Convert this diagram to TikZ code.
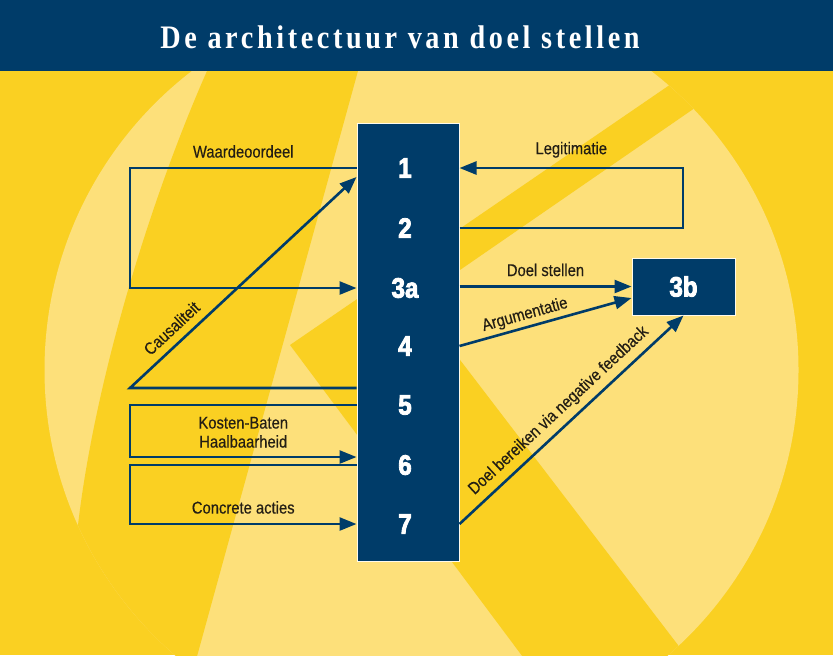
\documentclass[tikz,border=0pt]{standalone}
\usepackage{fontspec}
\setmainfont{Liberation Sans}
\newfontfamily\labelfont[FakeStretch=0.87,FakeBold=0.4]{Liberation Sans}
\newfontfamily\numfont[FakeStretch=0.86,BoldFeatures={FakeBold=3}]{Liberation Sans}
\newfontfamily\titlefont[FakeStretch=0.86,LetterSpace=11]{Liberation Serif}
\usetikzlibrary{arrows.meta}
\definecolor{navy}{RGB}{0,60,105}
\definecolor{sunyellow}{RGB}{250,208,34}
\definecolor{paleyellow}{RGB}{253,224,122}
\definecolor{inkbrown}{RGB}{35,30,20}
\tikzset{
  flow/.style={draw=navy, line width=1.3pt},
  arr/.style={flow, -{Triangle[length=8.5pt,width=6.5pt]}},
  lbl/.style={font=\labelfont\fontsize{8.5}{9.5}\selectfont, text=inkbrown, inner sep=1.5pt},
  stage/.style={fill=navy, draw=white!85!paleyellow, line width=0.5pt},
  num/.style={font=\numfont\bfseries\fontsize{14}{14}\selectfont, text=white},
}
\begin{document}
\begin{tikzpicture}[x=0.5pt, y=-0.5pt]
\useasboundingbox (0,0) rectangle (833,655);
\fill[sunyellow] (0,0) rectangle (833,655);
\fill[paleyellow] (421.5,370) circle[radius=188.5pt];
\begin{scope}
\clip (421.5,370) circle[radius=188.5pt];
\fill[sunyellow] (207,60) -- (207,71) .. controls (150,200) and (95,380) .. (78,525) -- (40,700) -- (185,700) -- (361,60) -- cycle;
\fill[sunyellow] (290,345) -- (720,50.5) -- (760,63) -- (415,301) -- (720,700) -- (555,700) -- cycle;
\end{scope}
\fill[navy] (0,0) rectangle (833,71);
\node[font=\titlefont\bfseries\fontsize{16.4}{18}\selectfont, text=white] (title) at (400,37) {De architectuur van doel stellen};

\node[stage, minimum width=51pt, minimum height=219pt] (col) at (408,342) {};
\node[stage, minimum width=51.5pt, minimum height=28.5pt, num] (b3) at (683.5,286.5) {3b};
\foreach \n/\y in {1/168, 2/228, 3a/288, 4/346, 5/405, 6/465, 7/524}
  \node[num] (n\n) at (405,\y) {\n};

\coordinate (lx) at (130,0);
\coordinate (rx) at (683,0);
\coordinate (k1) at ([yshift=-4.5pt]n1.center);
\coordinate (k5) at ([yshift=8.5pt]n5.center);
\coordinate (k6) at ([yshift=4pt]n6.center);

\draw[arr] (n1 -| col.west) -- node[lbl, above=3pt, pos=0.5] {Waardeoordeel} (n1 -| lx) -- (n3a -| lx) -- (n3a -| col.west);
\draw[arr] (k5 -| col.west) -- (k5 -| lx) -- node[lbl, sloped, above=2.4pt, pos=0.23] {Causaliteit} (k1 -| col.west);
\draw[arr] (n5 -| col.west) -- (n5 -| lx) -- (k6 -| lx) -- node[lbl, above=2.5pt, align=center] {Kosten-Baten\\Haalbaarheid} (k6 -| col.west);
\draw[arr] (n6 -| col.west) -- (n6 -| lx) -- (n7 -| lx) -- node[lbl, above=3pt] {Concrete acties} (n7 -| col.west);

\draw[arr] (n2 -| col.east) -- (n2 -| rx) -- (n1 -| rx) -- node[lbl, above=3pt] {Legitimatie} (n1 -| col.east);
\draw[arr] (col.east |- b3.west) -- node[lbl, above=3pt] {Doel stellen} (b3.west);
\draw[arr] (n4 -| col.east) -- node[lbl, sloped, above, pos=0.4] {Argumentatie} ([yshift=-5.75pt]b3.west);
\draw[arr] (n7 -| col.east) -- node[lbl, sloped, above=1.5pt, pos=0.49] {Doel bereiken via negative feedback} (b3.south);
\end{tikzpicture}
\end{document}
